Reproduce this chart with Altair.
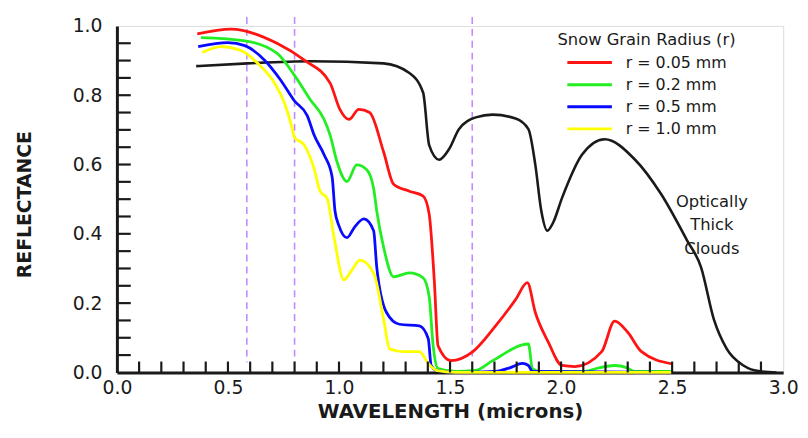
import altair as alt
import pandas as pd

# ---- data ----
CLOUD_WL = [0.357, 0.589, 0.871, 1.20, 1.317, 1.379, 1.406, 1.451, 1.496, 1.540, 1.616, 1.692,
            1.795, 1.853, 1.884, 1.911, 1.938, 1.964, 2.004, 2.094, 2.196, 2.33, 2.451, 2.567,
            2.63, 2.688, 2.746, 2.821, 2.897, 2.97]
CLOUD_R = [0.884, 0.892, 0.898, 0.892, 0.864, 0.807, 0.656, 0.614, 0.645, 0.702, 0.736, 0.744,
           0.733, 0.702, 0.599, 0.466, 0.409, 0.432, 0.503, 0.628, 0.673, 0.616, 0.514, 0.381,
           0.304, 0.153, 0.068, 0.02, 0.003, 0.0]

R005_WL = [0.362, 0.513, 0.723, 0.844, 0.96, 1.004, 1.045, 1.089, 1.138, 1.201, 1.246, 1.317,
           1.379, 1.406, 1.429, 1.446, 1.504, 1.603, 1.705, 1.795, 1.848, 1.884, 1.942, 2.004,
           2.063, 2.183, 2.241, 2.30, 2.362, 2.496]
R005_R = [0.977, 0.991, 0.949, 0.901, 0.835, 0.759, 0.730, 0.759, 0.750, 0.636, 0.543, 0.523,
          0.509, 0.457, 0.267, 0.077, 0.034, 0.060, 0.134, 0.210, 0.259, 0.173, 0.088, 0.02,
          0.017, 0.06, 0.148, 0.116, 0.06, 0.025]

R02_WL = [0.379, 0.576, 0.723, 0.799, 0.871, 0.933, 0.96, 0.991, 1.036, 1.080, 1.125, 1.156,
          1.170, 1.201, 1.246, 1.317, 1.379, 1.406, 1.424, 1.446, 1.527, 1.616, 1.692, 1.853,
          1.871, 1.906, 2.107, 2.174, 2.241, 2.295, 2.33, 2.496]
R02_R = [0.966, 0.957, 0.920, 0.858, 0.787, 0.730, 0.685, 0.608, 0.551, 0.599, 0.585, 0.531,
         0.466, 0.361, 0.276, 0.287, 0.273, 0.219, 0.077, 0.011, 0.003, 0.006, 0.034, 0.082,
         0.011, 0.003, 0.003, 0.014, 0.02, 0.014, 0.003, 0.003]

R05_WL = [0.366, 0.50, 0.576, 0.665, 0.737, 0.799, 0.857, 0.888, 0.933, 0.969, 0.982, 1.0,
          1.036, 1.071, 1.112, 1.156, 1.170, 1.214, 1.272, 1.362, 1.402, 1.415, 1.438, 1.527,
          1.705, 1.772, 1.826, 1.853, 1.871, 2.496]
R05_R = [0.940, 0.952, 0.943, 0.901, 0.844, 0.784, 0.741, 0.685, 0.628, 0.565, 0.466, 0.423,
         0.389, 0.420, 0.443, 0.409, 0.304, 0.173, 0.139, 0.134, 0.097, 0.020, 0.006, 0.0,
         0.003, 0.014, 0.026, 0.02, 0.003, 0.0]

R10_WL = [0.384, 0.469, 0.558, 0.634, 0.710, 0.754, 0.790, 0.799, 0.844, 0.888, 0.915, 0.946,
          0.978, 1.022, 1.058, 1.094, 1.156, 1.201, 1.228, 1.29, 1.362, 1.402, 1.438, 1.527, 2.496]
R10_R = [0.923, 0.940, 0.929, 0.892, 0.835, 0.778, 0.702, 0.679, 0.656, 0.588, 0.523, 0.503,
         0.389, 0.267, 0.295, 0.324, 0.287, 0.153, 0.068, 0.060, 0.060, 0.026, 0.006, 0.0, 0.0]

SERIES = ["r = 0.05 mm", "r = 0.2 mm", "r = 0.5 mm", "r = 1.0 mm"]
COLORS = ["#ff1414", "#22ee22", "#0a0aff", "#ffff00"]
SNOW_WL = [R005_WL, R02_WL, R05_WL, R10_WL]
SNOW_R = [R005_R, R02_R, R05_R, R10_R]

DASH_X = [0.585, 0.8, 1.6]
X_LABELS = [0.0, 0.5, 1.0, 1.5, 2.0, 2.5, 3.0]
Y_LABELS = [0.0, 0.2, 0.4, 0.6, 0.8, 1.0]
X_TICKS = [round(i * 0.1, 1) for i in range(1, 30)]
Y_TICKS = [round(i * 0.05, 2) for i in range(1, 20)]

FONT = "DejaVu Sans"
INK = "#1a1a1a"

# ---- tables ----
snow = pd.concat(
    [pd.DataFrame({"wl": w, "r": r, "series": s, "order": i})
     for i, (w, r, s) in enumerate(zip(SNOW_WL, SNOW_R, SERIES))],
    ignore_index=True,
)
cloud = pd.DataFrame({"wl": CLOUD_WL, "r": CLOUD_R})
legend_df = pd.DataFrame({"series": SERIES})

xscale = alt.Scale(domain=[0, 3], nice=False, zero=False)
yscale = alt.Scale(domain=[0, 1], nice=False)
cscale = alt.Scale(domain=SERIES, range=COLORS)

x_axis = alt.Axis(values=X_LABELS, format=".1f", ticks=False, grid=False,
                  domainColor=INK, domainWidth=3, labelFont=FONT, labelFontSize=19,
                  labelColor=INK, labelPadding=6, labelFlush=False,
                  title="WAVELENGTH (microns)", titleFont=FONT, titleFontSize=20,
                  titleFontWeight="bold", titleColor=INK, titleY=46,
                  titleBaseline="alphabetic")
y_axis = alt.Axis(values=Y_LABELS, format=".1f", ticks=False, grid=False,
                  domainColor=INK, domainWidth=3, labelFont=FONT, labelFontSize=19,
                  labelColor=INK, labelPadding=15, labelFlush=False,
                  title="REFLECTANCE", titleFont=FONT, titleFontSize=19,
                  titleFontWeight="bold", titleColor=INK, titleX=-87, titleY=180,
                  titleAngle=-90, titleAlign="center", titleBaseline="alphabetic")

base_cloud = alt.Chart(cloud).mark_line(color=INK, strokeWidth=2.6, interpolate="monotone").encode(
    x=alt.X("wl:Q", scale=xscale, axis=x_axis),
    y=alt.Y("r:Q", scale=yscale, axis=y_axis),
)

snow_lines = alt.Chart(snow).mark_line(strokeWidth=2.8, interpolate="monotone").encode(
    x=alt.X("wl:Q", scale=xscale),
    y=alt.Y("r:Q", scale=yscale),
    color=alt.Color("series:N", scale=cscale, legend=None),
    detail="series:N",
    order="order:Q",
)

dashes = alt.Chart(pd.DataFrame({"x": DASH_X})).mark_rule(
    color="#c08cff", strokeWidth=1.6, strokeDash=[7, 5]
).encode(x=alt.X("x:Q", scale=xscale), y=alt.value(-9), y2=alt.value(340))

xticks = alt.Chart(pd.DataFrame({"x": X_TICKS})).mark_rule(color=INK, strokeWidth=2.2).encode(
    x=alt.X("x:Q", scale=xscale), y=alt.value(350), y2=alt.value(339)
)
yticks = alt.Chart(pd.DataFrame({"y": Y_TICKS})).mark_rule(color=INK, strokeWidth=2.2).encode(
    y=alt.Y("y:Q", scale=yscale), x=alt.value(0), x2=alt.value(14)
)

annot = alt.Chart(pd.DataFrame({"t": ["Optically\nThick\nClouds"]})).mark_text(
    font=FONT, fontSize=16.5, color=INK, align="center", baseline="middle",
    lineBreak="\n", lineHeight=23.5
).encode(text="t:N", x=alt.value(601), y=alt.value(178))

leg_title = alt.Chart(pd.DataFrame({"t": ["Snow Grain Radius (r)"]})).mark_text(
    font=FONT, fontSize=16.5, color=INK, align="left", baseline="middle"
).encode(text="t:N", x=alt.value(445), y=alt.value(14))

ly = alt.Y("series:N", sort=SERIES, axis=None,
           scale=alt.Scale(type="point", domain=SERIES, range=[37, 104], padding=0))
leg_lines = alt.Chart(legend_df).mark_rule(strokeWidth=3).encode(
    y=ly, x=alt.value(455), x2=alt.value(500),
    color=alt.Color("series:N", scale=cscale, legend=None),
)
leg_text = alt.Chart(legend_df).mark_text(
    font=FONT, fontSize=16, color=INK, align="left", baseline="middle"
).encode(y=ly, x=alt.value(514), text="series:N")

legend_layer = alt.layer(leg_lines, leg_text)

main = alt.layer(dashes, base_cloud, snow_lines, xticks, yticks, annot, leg_title)

chart = alt.layer(main, legend_layer).resolve_scale(y="independent").properties(
    width=673, height=350,
    autosize=alt.AutoSizeParams(type="none"),
    padding={"left": 110, "top": 16, "right": 17, "bottom": 50},
).configure_view(stroke=None).configure(background="white")

chart.save("out.html", embed_options={"renderer": "svg", "actions": False})
